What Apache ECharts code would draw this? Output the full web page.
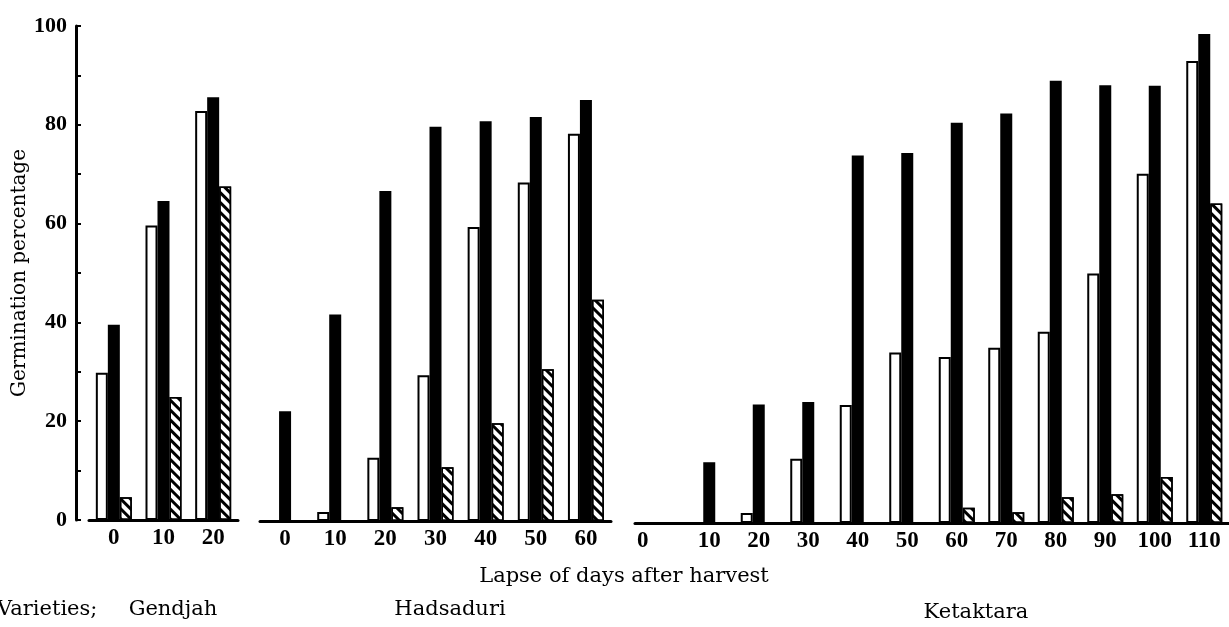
<!DOCTYPE html>
<html>
<head>
<meta charset="utf-8">
<script src="https://cdn.jsdelivr.net/npm/echarts@6/dist/echarts.min.js"></script>
<style>html,body{margin:0;padding:0;background:#fff;}#c{width:1229px;height:627px;}</style>
</head>
<body>
<div id="c"></div>
<script>
// ---- Data ----
const gendjahDays = ['0', '10', '20'];
const gendjahWhite = [29.8, 59.6, 82.8];
const gendjahBlack = [39.5, 64.6, 85.6];
const gendjahHatch = [4.6, 24.9, 67.5];

const hadsaduriDays = ['0', '10', '20', '30', '40', '50', '60'];
const hadsaduriWhite = [0, 1.8, 12.8, 29.5, 59.5, 68.5, 78.4];
const hadsaduriBlack = [22.2, 41.8, 66.8, 79.8, 80.9, 81.8, 85.2];
const hadsaduriHatch = [0, 0, 2.8, 10.9, 19.8, 30.7, 44.8];

const ketaktaraDays = ['0', '10', '20', '30', '40', '50', '60', '70', '80', '90', '100', '110'];
const ketaktaraWhite = [0, 0, 2.0, 13.0, 23.9, 34.5, 33.6, 35.5, 38.7, 50.5, 70.7, 93.5];
const ketaktaraBlack = [0, 12.3, 24.0, 24.5, 74.4, 74.9, 81.0, 82.9, 89.5, 88.6, 88.5, 99.0];
const ketaktaraHatch = [0, 0, 0, 0, 0, 0, 3.1, 2.2, 5.2, 5.8, 9.3, 64.7];

const yTicks = [0, 20, 40, 60, 80, 100];
const yTitle = 'Germination percentage';
const xTitle = 'Lapse of days after harvest';
const varietiesPrefix = 'Varieties;';
const varietyNames = ['Gendjah', 'Hadsaduri', 'Ketaktara'];

// ---- Styles ----
const SERIF = '"Liberation Serif", "DejaVu Serif", serif';
const WIDE_SERIF = '"DejaVu Serif", "Liberation Serif", serif';
const labelFont = { fontFamily: SERIF, fontWeight: 'bold', fontSize: 23, color: '#000' };
const yLabelFont = { fontFamily: SERIF, fontWeight: 'bold', fontSize: 22, color: '#000' };

function xAxisFor(gridIndex, cats, shiftFirst) {
  const ax = {
    type: 'category', gridIndex: gridIndex, data: cats,
    axisLine: { show: true, lineStyle: { color: '#000', width: 3 } },
    axisTick: { show: false },
    axisLabel: Object.assign({ margin: 7, interval: 0 }, labelFont),
    splitLine: { show: false }
  };
  if (shiftFirst) {
    ax.axisLabel.formatter = function (v, i) { return i === 0 ? '{s|' + v + '}' : v; };
    ax.axisLabel.rich = { s: Object.assign({ padding: [0, 34, 0, 0] }, labelFont) };
  }
  return ax;
}
function yAxisFor(gridIndex, visible) {
  return {
    type: 'value', gridIndex: gridIndex, min: 0, max: 100, interval: 10,
    show: visible,
    offset: visible ? 13 : 0,
    axisLine: { show: visible, lineStyle: { color: '#000', width: 3 } },
    axisTick: { show: visible, inside: true, length: 5, lineStyle: { color: '#000', width: 2 } },
    axisLabel: Object.assign({
      show: visible, margin: 9,
      formatter: function (v) { return yTicks.indexOf(v) >= 0 ? String(v) : ''; }
    }, yLabelFont),
    splitLine: { show: false },
    name: visible ? yTitle : '',
    nameLocation: 'middle', nameGap: 46,
    nameTextStyle: { fontFamily: WIDE_SERIF, fontSize: 20, color: '#000' }
  };
}
const hatchDecal = {
  symbol: 'rect', symbolSize: 1, color: '#000',
  dashArrayX: [1, 0], dashArrayY: [2.5, 3.5], rotation: Math.PI / 4
};
function barSeries(idx, values, kind) {
  const s = { type: 'bar', xAxisIndex: idx, yAxisIndex: idx, data: values, barWidth: 12, barGap: '0%', animation: false };
  if (kind === 'white') s.itemStyle = { color: '#fff', borderColor: '#000', borderWidth: 2 };
  else if (kind === 'black') s.itemStyle = { color: '#000', borderColor: '#000', borderWidth: 0 };
  else s.itemStyle = { color: '#fff', borderColor: '#000', borderWidth: 1.5, decal: hatchDecal };
  return s;
}
function textEl(str, x, y, align) {
  return { type: 'text', x: x, y: y, style: { text: str, font: '21px ' + WIDE_SERIF, fill: '#000', textAlign: align, textVerticalAlign: 'middle' } };
}

const chart = echarts.init(document.getElementById('c'), null, { renderer: 'canvas' });
chart.setOption({
  backgroundColor: '#fff',
  animation: false,
  grid: [
    { left: 89, width: 149, top: 26, height: 494 },
    { left: 260, width: 351, top: 27, height: 494 },
    { left: 635, width: 603, top: 29, height: 494 }
  ],
  xAxis: [
    xAxisFor(0, gendjahDays, false),
    xAxisFor(1, hadsaduriDays, false),
    xAxisFor(2, ketaktaraDays, true)
  ],
  yAxis: [yAxisFor(0, true), yAxisFor(1, false), yAxisFor(2, false)],
  series: [
    barSeries(0, gendjahWhite, 'white'), barSeries(0, gendjahBlack, 'black'), barSeries(0, gendjahHatch, 'hatch'),
    barSeries(1, hadsaduriWhite, 'white'), barSeries(1, hadsaduriBlack, 'black'), barSeries(1, hadsaduriHatch, 'hatch'),
    barSeries(2, ketaktaraWhite, 'white'), barSeries(2, ketaktaraBlack, 'black'), barSeries(2, ketaktaraHatch, 'hatch')
  ],
  graphic: [
    textEl(xTitle, 624, 577, 'center'),
    textEl(varietiesPrefix, -3, 610, 'left'),
    textEl(varietyNames[0], 173, 610, 'center'),
    textEl(varietyNames[1], 450, 610, 'center'),
    textEl(varietyNames[2], 976, 613, 'center')
  ]
});
</script>
</body>
</html>
